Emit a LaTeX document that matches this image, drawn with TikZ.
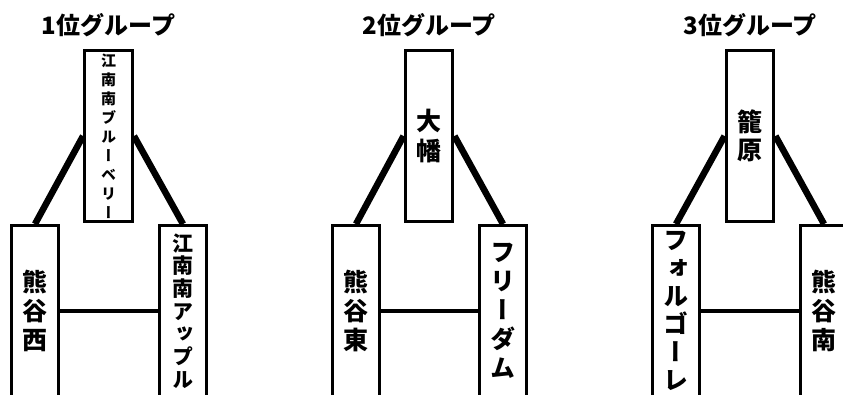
\documentclass[tikz,border=0pt]{standalone}
\usepackage{fontspec}
\newfontfamily\jp{Noto Sans CJK JP}
\newfontfamily\jpv{Noto Sans CJK JP}[RawFeature=+vert]
\usetikzlibrary{positioning}

\begin{document}
\begin{tikzpicture}[x=1pt,y=-1pt,
    team/.style={draw, line width=3.4pt, minimum width=47.5pt, minimum height=170.5pt, inner sep=0pt, align=center, font=\jpv\bfseries\fontsize{25}{29}\selectfont},
    grouptitle/.style={inner sep=0pt, font=\jp\bfseries\fontsize{24}{26}\selectfont},
    link/.style={line width=6.5pt},
    match/.style={line width=4.5pt}]

    \useasboundingbox (0,0) rectangle (843,394);

    \node[team, font=\jpv\bfseries\fontsize{15}{19}\selectfont] (top1) at (108.5,136) {江\\南\\南\\ブ\\ル\\ー\\ベ\\リ\\ー};
    \node[team] (left1) at (35,311) {熊\\谷\\西};
    \node[team, font=\jpv\bfseries\fontsize{21}{22.7}\selectfont] (right1) at (183,311) {江\\南\\南\\ア\\ッ\\プ\\ル};

    \node[team, font=\jpv\bfseries\fontsize{25}{30}\selectfont] (top2) at (429,136) {大\\幡};
    \node[team] (left2) at (356,311) {熊\\谷\\東};
    \node[team] (right2) at (503,311) {フ\\リ\\ー\\ダ\\ム};

    \node[team, font=\jpv\bfseries\fontsize{25}{28}\selectfont] (top3) at (750,136) {籠\\原};
    \node[team, font=\jpv\bfseries\fontsize{25}{28}\selectfont] (left3) at (676,311) {フ\\ォ\\ル\\ゴ\\ー\\レ};
    \node[team] (right3) at (824,311) {熊\\谷\\南};

    \node[grouptitle, above=12pt of top1] (title1) {1位グループ};
    \node[grouptitle, above=12pt of top2] (title2) {2位グループ};
    \node[grouptitle, above=12pt of top3] (title3) {3位グループ};

    \foreach \g in {1,2,3} {
        \draw[link] (top\g.west) -- (left\g.north);
        \draw[link] (top\g.east) -- (right\g.north);
        \draw[match] (left\g.east) -- (right\g.west);
    }

\end{tikzpicture}
\end{document}
